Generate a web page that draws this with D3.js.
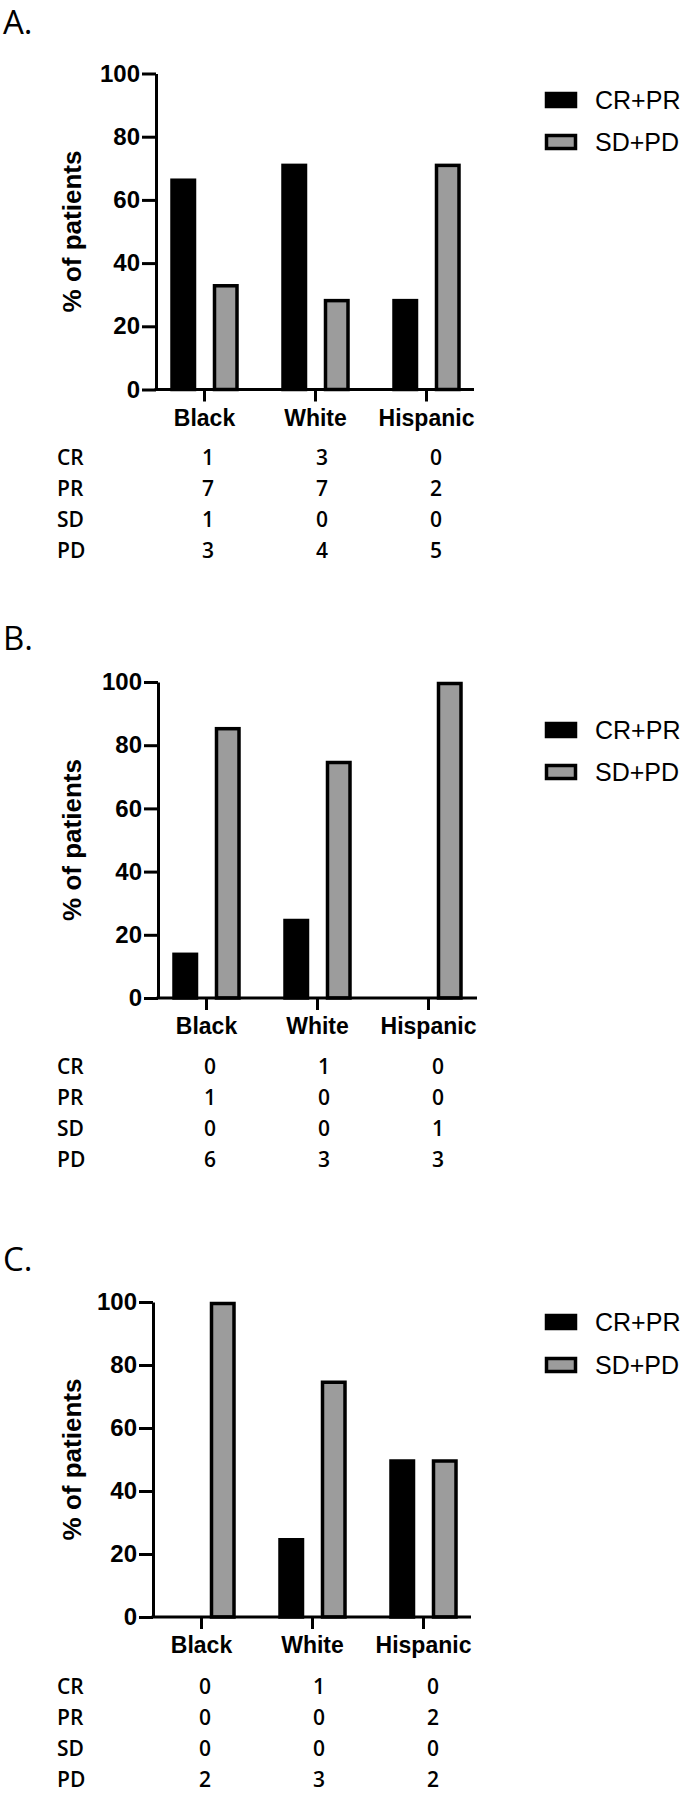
<!DOCTYPE html>
<html>
<head>
<meta charset="utf-8">
<script src="https://cdn.jsdelivr.net/npm/d3@7"></script>
<style>
  body { margin: 0; background: #fff; }
  svg { display: block; }
  .prism { font-family: 'Liberation Sans', Arial, sans-serif; }
  .calibri { font-family: 'Open Sans', sans-serif; }
</style>
</head>
<body>
<svg id="chart"></svg>
<script>
// 数据
const categories = ['Black', 'White', 'Hispanic']
const series = ['CR+PR', 'SD+PD']
const yTicks = [0, 20, 40, 60, 80, 100]
const tableRows = ['CR', 'PR', 'SD', 'PD']

const respA = [66.7, 71.4, 28.6]
const stableA = [33.3, 28.6, 71.4]
const countsA = [[1, 3, 0], [7, 7, 2], [1, 0, 0], [3, 4, 5]]

const respB = [14.3, 25, 0]
const stableB = [85.7, 75, 100]
const countsB = [[0, 1, 0], [1, 0, 0], [0, 0, 1], [6, 3, 3]]

const respC = [0, 25, 50]
const stableC = [100, 75, 50]
const countsC = [[0, 1, 0], [0, 0, 2], [0, 0, 0], [2, 3, 2]]

const fills = ['#000', '#9c9c9c']

const svg = d3.select('#chart')
  .attr('width', 688)
  .attr('height', 1800)

function drawPanel (label, values, counts, layout) {
  const { axisX, axisEnd, y100, y0, titleY, legendY, tableY } = layout
  const g = svg.append('g')

  // 标题
  g.append('text')
    .attr('class', 'calibri')
    .attr('x', 3)
    .attr('y', titleY)
    .attr('font-size', 33)
    .text(label)

  const y = d3.scaleLinear().domain([0, 100]).range([y0, y100])
  const x0 = d3.scaleBand()
    .domain(categories)
    .range([axisX - 7, axisX + 326])
  const x1 = d3.scaleBand()
    .domain(series)
    .range([x0.bandwidth() / 2 - 34, x0.bandwidth() / 2 + 34])
    .paddingInner(0.4)

  // 柱子
  const groups = g.selectAll('.cat')
    .data(categories)
    .enter().append('g')
    .attr('class', 'cat')
    .attr('transform', d => `translate(${x0(d)},0)`)
  groups.selectAll('rect')
    .data((d, i) => series.map((s, j) => ({ s, j, v: values[j][i] })))
    .enter().append('rect')
    .filter(d => d.v > 0)
    .attr('x', d => x1(d.s) + 1.5)
    .attr('width', x1.bandwidth() - 3)
    .attr('y', d => y(d.v) + 1.5)
    .attr('height', d => y0 - y(d.v) - 1.5)
    .attr('fill', d => fills[d.j])
    .attr('stroke', '#000')
    .attr('stroke-width', 3.5)

  // Y轴
  const yAxisG = g.append('g')
    .attr('class', 'prism')
    .attr('transform', `translate(${axisX},0)`)
    .call(d3.axisLeft(y).tickValues(yTicks).tickSize(14).tickSizeOuter(0).tickPadding(2))
  yAxisG.select('.domain').attr('stroke-width', 3)
  yAxisG.selectAll('.tick line').attr('stroke-width', 3)
  yAxisG.selectAll('.tick text')
    .attr('font-size', 24)
    .attr('font-weight', 'bold')
    .attr('font-family', 'Liberation Sans, Arial, sans-serif')
    .attr('fill', '#000')

  // X轴
  const xAxisG = g.append('g')
    .attr('class', 'prism')
    .attr('transform', `translate(0,${y0})`)
    .call(d3.axisBottom(x0).tickSize(12).tickSizeOuter(0).tickPadding(8))
  xAxisG.select('.domain').remove()
  xAxisG.selectAll('.tick line').attr('stroke-width', 3)
  xAxisG.selectAll('.tick text')
    .attr('font-size', 23)
    .attr('font-weight', 'bold')
    .attr('font-family', 'Liberation Sans, Arial, sans-serif')
    .attr('fill', '#000')
  xAxisG.append('line')
    .attr('x1', axisX - 1.5)
    .attr('x2', axisEnd)
    .attr('stroke', '#000')
    .attr('stroke-width', 3)

  // Y轴标题
  g.append('text')
    .attr('class', 'prism')
    .attr('transform', `translate(81,${(y0 + y100) / 2}) rotate(-90)`)
    .attr('text-anchor', 'middle')
    .attr('font-size', 26)
    .attr('font-weight', 'bold')
    .text('% of patients')

  // 图例
  const legend = g.selectAll('.legend')
    .data(series)
    .enter().append('g')
    .attr('class', 'legend')
    .attr('transform', (d, i) => `translate(545,${legendY[i]})`)
  legend.append('rect')
    .attr('x', 1.5)
    .attr('y', -6.5)
    .attr('width', 29)
    .attr('height', 13)
    .attr('fill', (d, i) => fills[i])
    .attr('stroke', '#000')
    .attr('stroke-width', 3.5)
  legend.append('text')
    .attr('class', 'prism')
    .attr('x', 50)
    .attr('dy', '0.36em')
    .attr('font-size', 25)
    .text(d => d)

  // 下方表格
  const tableX = d3.scalePoint()
    .domain(categories)
    .range([axisX + 52, axisX + 280])
  const rowsG = g.selectAll('.row')
    .data(tableRows)
    .enter().append('g')
    .attr('class', 'row calibri')
    .attr('font-size', 21)
    .attr('font-weight', 600)
    .attr('transform', (d, i) => `translate(0,${tableY + i * 31})`)
  rowsG.append('text')
    .attr('x', 57)
    .attr('dy', '0.36em')
    .text(d => d)
  rowsG.selectAll('.val')
    .data((d, i) => counts[i])
    .enter().append('text')
    .attr('class', 'val')
    .attr('x', (d, i) => tableX(categories[i]))
    .attr('dy', '0.36em')
    .attr('text-anchor', 'middle')
    .text(d => d)
}

drawPanel('A.', [respA, stableA], countsA, {
  axisX: 156, axisEnd: 474, y100: 73.5, y0: 389.5, titleY: 34, legendY: [100, 142], tableY: 457
})
drawPanel('B.', [respB, stableB], countsB, {
  axisX: 158, axisEnd: 477, y100: 682, y0: 998, titleY: 650, legendY: [730, 772], tableY: 1066
})
drawPanel('C.', [respC, stableC], countsC, {
  axisX: 153, axisEnd: 471, y100: 1302, y0: 1617, titleY: 1271, legendY: [1322, 1365], tableY: 1686
})
</script>
</body>
</html>
